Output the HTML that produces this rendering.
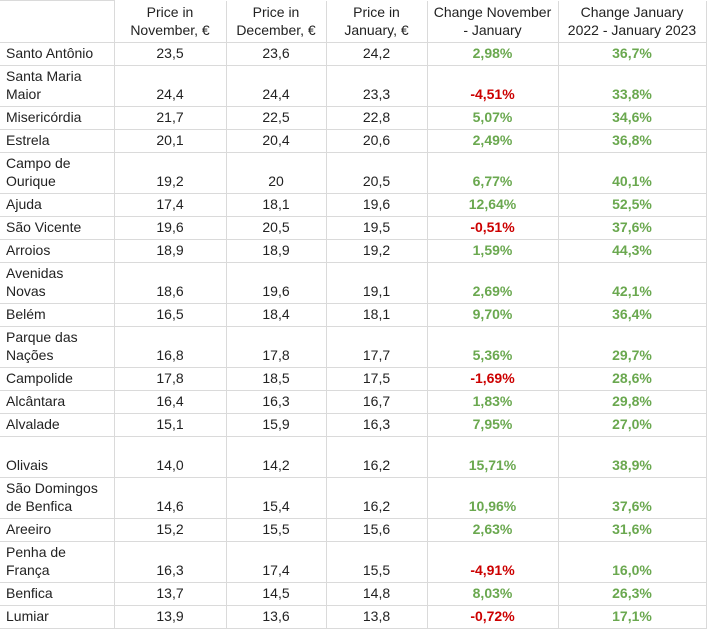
<!DOCTYPE html>
<html><head><meta charset="utf-8"><style>
html,body{margin:0;padding:0;background:#fff;width:708px;height:631px;overflow:hidden}
table{border-collapse:collapse;table-layout:fixed;font-family:"Liberation Sans",Arial,sans-serif;font-size:14px;color:#222;position:absolute;left:0;top:0}
td{border-right:1px solid #dadada;border-bottom:1px solid #dadada;padding:0 2px 3px 2px;vertical-align:bottom;line-height:18px;text-align:center;box-sizing:border-box;overflow:hidden;white-space:nowrap}
td:first-child{text-align:left;padding-left:6px}
tr.h td{vertical-align:middle;padding:2px 0 2px 0}
tr.h td:first-child{border-top:1px solid #dadada}
.g{color:#6aa84f;font-weight:bold}
.r{color:#cc0000;font-weight:bold}
tr.s td{height:23px}
tr.d td{height:41px}
</style></head><body>
<table>
<colgroup><col style="width:114px"><col style="width:112px"><col style="width:100px"><col style="width:101px"><col style="width:131px"><col style="width:148px"></colgroup>
<tr class="h" style="height:42px"><td></td><td>Price in<br>November, €</td><td>Price in<br>December, €</td><td>Price in<br>January, €</td><td>Change November<br>- January</td><td>Change January<br>2022 - January 2023</td></tr>
<tr class="s"><td>Santo Antônio</td><td>23,5</td><td>23,6</td><td>24,2</td><td class="g">2,98%</td><td class="g">36,7%</td></tr>
<tr class="d"><td>Santa Maria<br>Maior</td><td>24,4</td><td>24,4</td><td>23,3</td><td class="r">-4,51%</td><td class="g">33,8%</td></tr>
<tr class="s"><td>Misericórdia</td><td>21,7</td><td>22,5</td><td>22,8</td><td class="g">5,07%</td><td class="g">34,6%</td></tr>
<tr class="s"><td>Estrela</td><td>20,1</td><td>20,4</td><td>20,6</td><td class="g">2,49%</td><td class="g">36,8%</td></tr>
<tr class="d"><td>Campo de<br>Ourique</td><td>19,2</td><td>20</td><td>20,5</td><td class="g">6,77%</td><td class="g">40,1%</td></tr>
<tr class="s"><td>Ajuda</td><td>17,4</td><td>18,1</td><td>19,6</td><td class="g">12,64%</td><td class="g">52,5%</td></tr>
<tr class="s"><td>São Vicente</td><td>19,6</td><td>20,5</td><td>19,5</td><td class="r">-0,51%</td><td class="g">37,6%</td></tr>
<tr class="s"><td>Arroios</td><td>18,9</td><td>18,9</td><td>19,2</td><td class="g">1,59%</td><td class="g">44,3%</td></tr>
<tr class="d"><td>Avenidas<br>Novas</td><td>18,6</td><td>19,6</td><td>19,1</td><td class="g">2,69%</td><td class="g">42,1%</td></tr>
<tr class="s"><td>Belém</td><td>16,5</td><td>18,4</td><td>18,1</td><td class="g">9,70%</td><td class="g">36,4%</td></tr>
<tr class="d"><td>Parque das<br>Nações</td><td>16,8</td><td>17,8</td><td>17,7</td><td class="g">5,36%</td><td class="g">29,7%</td></tr>
<tr class="s"><td>Campolide</td><td>17,8</td><td>18,5</td><td>17,5</td><td class="r">-1,69%</td><td class="g">28,6%</td></tr>
<tr class="s"><td>Alcântara</td><td>16,4</td><td>16,3</td><td>16,7</td><td class="g">1,83%</td><td class="g">29,8%</td></tr>
<tr class="s"><td>Alvalade</td><td>15,1</td><td>15,9</td><td>16,3</td><td class="g">7,95%</td><td class="g">27,0%</td></tr>
<tr class="d"><td>Olivais</td><td>14,0</td><td>14,2</td><td>16,2</td><td class="g">15,71%</td><td class="g">38,9%</td></tr>
<tr class="d"><td>São Domingos<br>de Benfica</td><td>14,6</td><td>15,4</td><td>16,2</td><td class="g">10,96%</td><td class="g">37,6%</td></tr>
<tr class="s"><td>Areeiro</td><td>15,2</td><td>15,5</td><td>15,6</td><td class="g">2,63%</td><td class="g">31,6%</td></tr>
<tr class="d"><td>Penha de<br>França</td><td>16,3</td><td>17,4</td><td>15,5</td><td class="r">-4,91%</td><td class="g">16,0%</td></tr>
<tr class="s"><td>Benfica</td><td>13,7</td><td>14,5</td><td>14,8</td><td class="g">8,03%</td><td class="g">26,3%</td></tr>
<tr class="s"><td>Lumiar</td><td>13,9</td><td>13,6</td><td>13,8</td><td class="r">-0,72%</td><td class="g">17,1%</td></tr>
</table>
</body></html>
